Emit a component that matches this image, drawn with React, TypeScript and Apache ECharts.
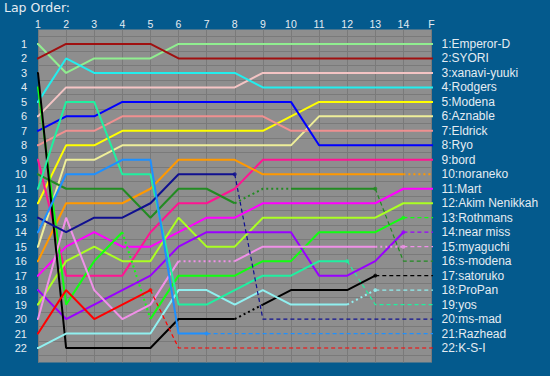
import React, { useEffect, useRef } from "react";
import * as echarts from "echarts";

const lapLabels = ["1", "2", "3", "4", "5", "6", "7", "8", "9", "10", "11", "12", "13", "14", "F"];
const rowNumbers = ["1", "2", "3", "4", "5", "6", "7", "8", "9", "10", "11", "12", "13", "14", "15", "16", "17", "18", "19", "20", "21", "22"];

const driverNames = [
  "Emperor-D", "SYORI", "xanavi-yuuki", "Rodgers", "Modena", "Aznable", "Eldrick", "Ryo",
  "bord", "noraneko", "Mart", "Akim Nenikkah", "Rothmans", "near miss", "myaguchi", "s-modena",
  "satoruko", "ProPan", "yos", "ms-mad", "Razhead", "K-S-I",
];
const driverColors = [
  "#90ee90", "#a01010", "#f4c4c4", "#22eeee", "#ffff00", "#eeee99", "#f09090", "#0000ff",
  "#ff1493", "#ff9900", "#ff00ff", "#aaff22", "#11ff11", "#9900ff", "#f090e8", "#228b22",
  "#000000", "#90f0f0", "#20f0a0", "#101090", "#1e90ff", "#ff0000",
];

// positions per lap (1..14, F)
const emperorD = [1, 3, 2, 2, 2, 1, 1, 1, 1, 1, 1, 1, 1, 1, 1];
const syori = [2, 1, 1, 1, 1, 2, 2, 2, 2, 2, 2, 2, 2, 2, 2];
const xanaviYuuki = [6, 4, 4, 4, 4, 4, 4, 4, 3, 3, 3, 3, 3, 3, 3];
const rodgers = [5, 2, 3, 3, 3, 3, 3, 3, 4, 4, 4, 4, 4, 4, 4];
const modena = [12, 8, 8, 7, 7, 7, 7, 7, 7, 6, 5, 5, 5, 5, 5];
const aznable = [15, 9, 9, 8, 8, 8, 8, 8, 8, 8, 6, 6, 6, 6, 6];
const eldrick = [8, 7, 7, 6, 6, 6, 6, 6, 6, 7, 7, 7, 7, 7, 7];
const ryo = [7, 6, 6, 5, 5, 5, 5, 5, 5, 5, 8, 8, 8, 8, 8];
const bord = [9, 17, 17, 17, 14, 12, 12, 11, 9, 9, 9, 9, 9, 9, 9];
const noraneko = [16, 12, 12, 12, 11, 9, 9, 9, 10, 10, 10, 10, 10, 10, 10];
const mart = [17, 15, 14, 15, 15, 14, 13, 13, 12, 12, 12, 12, 12, 11, 11];
const akim = [19, 16, 15, 16, 16, 13, 15, 15, 13, 13, 13, 13, 13, 12, 12];
const rothmans = [4, 19, 16, 14, 20, 17, 17, 17, 16, 16, 14, 14, 14, 13, 13];
const nearMiss = [18, 20, 19, 18, 17, 15, 14, 14, 14, 14, 17, 17, 16, 14, 14];
const myaguchi = [20, 13, 18, 20, 19, 16, 16, 16, 15, 15, 15, 15, 15, 15, 15];
const sModena = [10, 11, 11, 11, 13, 11, 11, 12, 11, 11, 11, 11, 11, 16, 16];
const satoruko = [3, 22, 22, 22, 22, 20, 20, 20, 19, 18, 18, 18, 17, 17, 17];
const proPan = [22, 21, 21, 21, 21, 18, 18, 19, 18, 19, 19, 19, 18, 18, 18];
const yos = [11, 5, 5, 10, 10, 19, 19, 18, 17, 17, 16, 16, 19, 19, 19];
const msMad = [13, 14, 13, 13, 12, 10, 10, 10, 20, 20, 20, 20, 20, 20, 20];
const razhead = [14, 10, 10, 9, 9, 21, 21, 21, 21, 21, 21, 21, 21, 21, 21];
const ksi = [21, 18, 20, 19, 18, 22, 22, 22, 22, 22, 22, 22, 22, 22, 22];

// segment styles between laps: s = solid, o = dotted, d = dashed
const segmentStyles = [
  "ssssssssssssss", "ssssssssssssss", "ssssssssssssss", "ssssssssssssss",
  "ssssssssssssss", "ssssssssssssss", "ssssssssssssss", "ssssssssssssss",
  "ssssssssssssss", "ssssssssssssso", "ssssssssssssss", "ssssssssssssss",
  "sssosssssssssd", "sssssssssssssd", "sssssoosssssod", "sssssssoosssdd",
  "sssssssossssdd", "sssssssssssodd", "sssssssssssddd", "sssssssddddddd",
  "ssssssdddddddd", "ssssdddddddddd",
];
// lap index (0-based) of the retirement dot, -1 = none
const retireMarks = [-1, -1, -1, -1, -1, -1, -1, -1, -1, -1, -1, -1, 13, 13, 13, 12, 12, 12, 11, 7, 6, 4];

const positions = [
  emperorD, syori, xanaviYuuki, rodgers, modena, aznable, eldrick, ryo, bord, noraneko, mart,
  akim, rothmans, nearMiss, myaguchi, sModena, satoruko, proPan, yos, msMad, razhead, ksi,
];

const LEFT_STUB = 0.79;
const RIGHT_STUB = 15.3;
const FONT = "'Liberation Sans', Arial, sans-serif";
const TEXT = "#e4ecf2";

function lineStyleFor(s: string, color: string) {
  if (s === "d") return { color, width: 1.2, type: [4, 3] as any };
  if (s === "o") return { color, width: 2, type: [2, 3] as any };
  return { color, width: 2, type: "solid" as any };
}

function buildSeries() {
  const series: any[] = [];
  positions.forEach((pos, di) => {
    const color = driverColors[di];
    const style = segmentStyles[di];
    const pts: number[][] = [[LEFT_STUB, pos[0]], ...pos.map((p, i) => [i + 1, p]), [RIGHT_STUB, pos[pos.length - 1]]];
    const segs = ["s", ...style.split(""), style[style.length - 1]];
    let start = 0;
    for (let i = 0; i < segs.length; i++) {
      if (i === segs.length - 1 || segs[i + 1] !== segs[i]) {
        series.push({
          type: "line",
          name: driverNames[di],
          data: pts.slice(start, i + 2),
          symbol: "none",
          clip: false,
          silent: true,
          z: 3,
          lineStyle: lineStyleFor(segs[i], color),
        });
        start = i + 1;
      }
    }
    const m = retireMarks[di];
    if (m >= 0) {
      series.push({
        type: "scatter",
        data: [[m + 1, pos[m]]],
        symbol: "circle",
        symbolSize: 4,
        clip: false,
        silent: true,
        z: 4,
        itemStyle: { color },
      });
    }
  });
  return series;
}

export default function App() {
  const ref = useRef<HTMLDivElement>(null);
  useEffect(() => {
    if (!ref.current) return;
    const chart = echarts.init(ref.current, undefined, { renderer: "svg" });
    chart.setOption({
      animation: false,
      backgroundColor: "#045a8d",
      title: {
        text: "Lap Order:",
        left: 4,
        top: 1,
        padding: 0,
        textStyle: { color: TEXT, fontSize: 12.5, fontWeight: "normal", fontFamily: "'DejaVu Sans', Verdana, sans-serif" },
      },
      grid: {
        left: 38,
        top: 29.5,
        width: 393.5,
        height: 333,
        show: true,
        backgroundColor: "#8e8e8e",
        borderWidth: 0,
      },
      xAxis: [
        {
          type: "value",
          position: "top",
          min: 1,
          max: 15,
          interval: 1,
          axisLine: { show: false },
          axisTick: { show: false },
          axisLabel: {
            color: TEXT,
            fontSize: 10.5,
            fontFamily: FONT,
            margin: 0.5,
            formatter: (v: number) => lapLabels[v - 1] ?? "",
          },
          splitLine: { show: true, lineStyle: { color: "#7a7a7a", width: 1 } },
        },
      ],
      yAxis: [
        {
          type: "value",
          inverse: true,
          min: 0,
          max: 23,
          interval: 1,
          position: "left",
          axisLine: { show: false },
          axisTick: { show: false },
          splitLine: { show: false },
          axisLabel: {
            color: TEXT,
            fontSize: 11,
            fontFamily: FONT,
            margin: 11,
            formatter: (v: number) => rowNumbers[v - 1] ?? "",
          },
        },
        {
          type: "value",
          inverse: true,
          min: 0,
          max: 23,
          interval: 1,
          position: "right",
          axisLine: { show: false },
          axisTick: { show: false },
          splitLine: { show: false },
          axisLabel: {
            color: TEXT,
            fontSize: 12,
            fontFamily: FONT,
            margin: 10,
            formatter: (v: number) => (driverNames[v - 1] ? `${v}:${driverNames[v - 1]}` : ""),
          },
        },
        {
          type: "value",
          inverse: true,
          min: 0,
          max: 23,
          interval: 0.5,
          position: "left",
          offset: 0,
          axisLine: { show: false },
          axisTick: { show: false },
          axisLabel: { show: false },
          splitLine: { show: true, lineStyle: { color: ["transparent", "#7a7a7a"], width: 1 } },
        },
      ],
      series: buildSeries(),
    });
    return () => chart.dispose();
  }, []);
  return <div ref={ref} style={{ position: "fixed", left: 0, top: 0, width: 550, height: 376 }} />;
}
